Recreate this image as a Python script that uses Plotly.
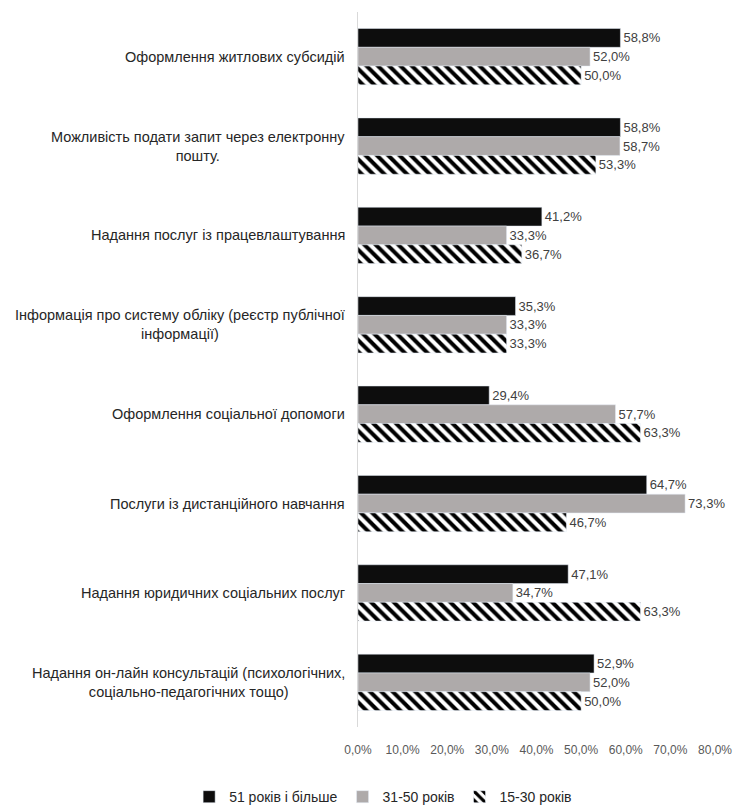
import plotly.graph_objects as go

categories = [
    "Оформлення житлових субсидій",
    "Можливість подати запит через електронну<br>пошту.",
    "Надання послуг із працевлаштування",
    "Інформація про систему обліку (реєстр публічної<br>інформації)",
    "Оформлення соціальної допомоги",
    "Послуги із дистанційного навчання",
    "Надання юридичних соціальних послуг",
    "Надання он-лайн консультацій (психологічних,<br>соціально-педагогічних тощо)",
]
series_names = ["51 років і більше", "31-50 років", "15-30 років"]
vals_51 = [58.8, 58.8, 41.2, 35.3, 29.4, 64.7, 47.1, 52.9]
vals_31 = [52.0, 58.7, 33.3, 33.3, 57.7, 73.3, 34.7, 52.0]
vals_15 = [50.0, 53.3, 36.7, 33.3, 63.3, 46.7, 63.3, 50.0]
tick_vals = [0, 10, 20, 30, 40, 50, 60, 70, 80]
tick_text = [f"{v:.1f}%".replace(".", ",") for v in tick_vals]

FONT = "Liberation Sans, Arial, sans-serif"
TXT = "#404040"

fig = go.Figure()
fig.add_trace(go.Bar(
    y=categories, x=vals_51, name=series_names[0], orientation="h",
    marker=dict(color="#0d0d0d"),
    texttemplate="%{x:.1f}%", textposition="outside",
    textfont=dict(family=FONT, size=13, color=TXT), cliponaxis=False,
))
fig.add_trace(go.Bar(
    y=categories, x=vals_31, name=series_names[1], orientation="h",
    marker=dict(color="#aeaaaa"),
    texttemplate="%{x:.1f}%", textposition="outside",
    textfont=dict(family=FONT, size=13, color=TXT), cliponaxis=False,
))
fig.add_trace(go.Bar(
    y=categories, x=vals_15, name=series_names[2], orientation="h",
    marker=dict(color="white", pattern=dict(shape="\\", fgcolor="black", bgcolor="white",
                                            size=8, solidity=0.5, fillmode="replace")),
    texttemplate="%{x:.1f}%", textposition="outside",
    textfont=dict(family=FONT, size=13, color=TXT), cliponaxis=False,
))

annotations = []
for c in categories:
    annotations.append(dict(
        x=0, y=c, xref="paper", yref="y", text=c, showarrow=False,
        xanchor="right", yanchor="middle", align="center", xshift=-11,
        font=dict(family=FONT, size=14.5, color="#262626"),
    ))

fig.update_layout(
    width=734, height=809,
    margin=dict(l=358, r=19, t=12, b=82, autoexpand=False),
    paper_bgcolor="white", plot_bgcolor="white",
    barmode="group", bargap=0.37, bargroupgap=0,
    separators=", ",
    showlegend=True,
    legend=dict(orientation="h", x=-0.473, xref="paper", xanchor="left",
                y=-0.098, yref="paper", yanchor="middle",
                font=dict(family=FONT, size=14, color="#262626"),
                traceorder="normal", itemwidth=30),
    annotations=annotations,
)
fig.update_xaxes(range=[0, 80], tickvals=tick_vals, ticktext=tick_text,
                 showgrid=False, zeroline=False, showline=False,
                 tickfont=dict(family=FONT, size=12, color="#595959"),
                 ticks="outside", ticklen=12, tickcolor="white")
fig.update_yaxes(autorange="reversed", showticklabels=False, showgrid=False,
                 showline=True, linecolor="#d9d9d9", linewidth=1, ticks="")

fig.write_html(
    "out.html",
    config={"displayModeBar": False},
    post_script="document.body.style.margin='0';document.body.style.overflow='hidden';",
)
